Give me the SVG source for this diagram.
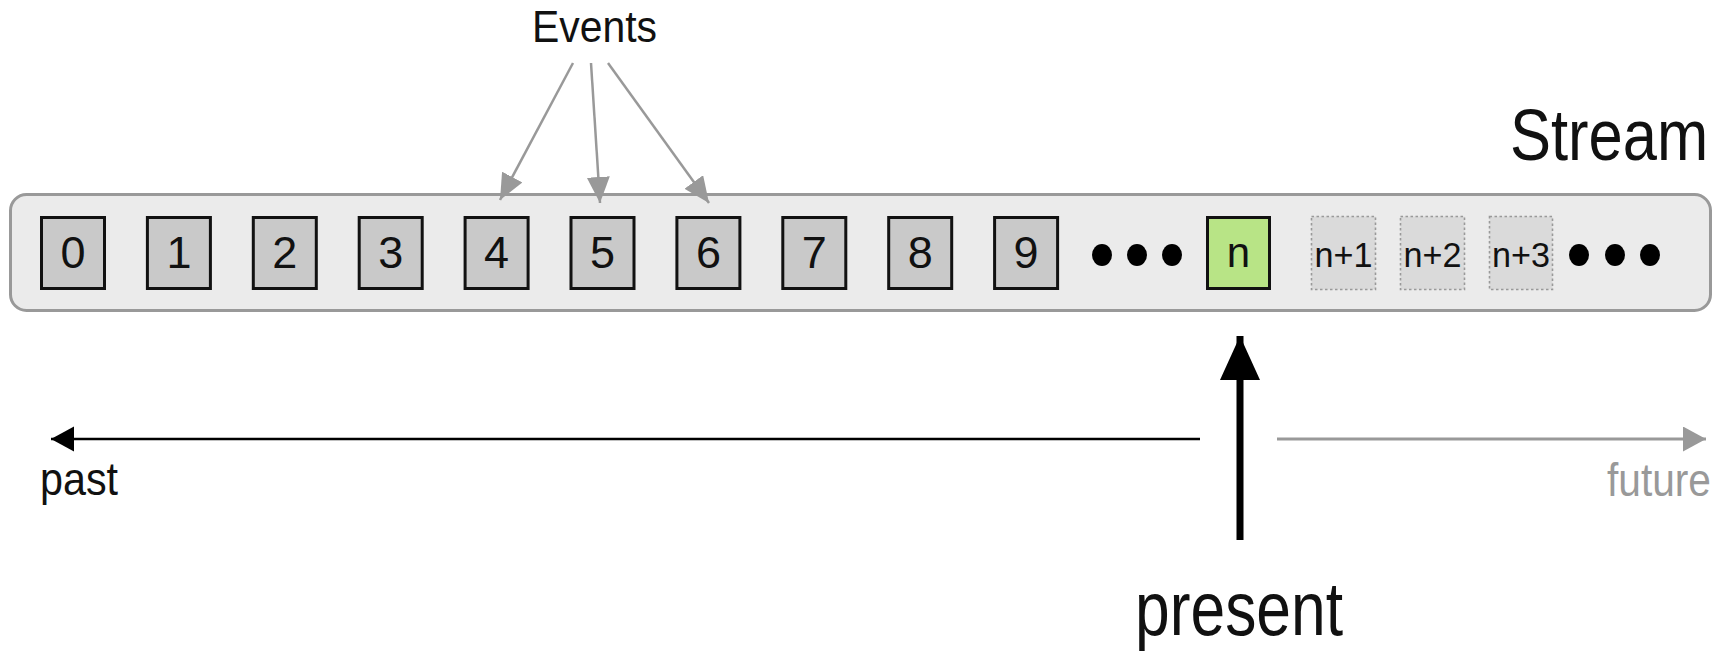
<svg xmlns="http://www.w3.org/2000/svg" width="1729" height="653" viewBox="0 0 1729 653">
  <defs>
    <style>
      .t { font-family: "Liberation Sans", Arial, sans-serif; fill: #111; }
      .ev { stroke: #111; stroke-width: 3; fill: #c9c9c9; }
      .cur { stroke: #111; stroke-width: 3; fill: #b8e486; }
      .fut { stroke: #999; stroke-width: 1.6; stroke-dasharray: 2.5 2.5; fill: #dadada; }
      .dig { font-size: 45px; text-anchor: middle; }
      .nl { font-size: 35px; text-anchor: middle; }
      .dot { fill: #000; }
    </style>
    <marker id="grayHead" markerUnits="userSpaceOnUse" markerWidth="27" markerHeight="24" refX="26" refY="11.5" orient="auto">
      <path d="M0,0 L26,11.5 L0,23 Z" fill="#999"/>
    </marker>
    <marker id="pastHead" markerUnits="userSpaceOnUse" markerWidth="24" markerHeight="26" refX="23" refY="12.5" orient="auto">
      <path d="M0,0 L23,12.5 L0,25 Z" fill="#000"/>
    </marker>
    <marker id="futureHead" markerUnits="userSpaceOnUse" markerWidth="24" markerHeight="26" refX="23" refY="12.5" orient="auto">
      <path d="M0,0 L23,12.5 L0,25 Z" fill="#999"/>
    </marker>
    <marker id="presentHead" markerUnits="userSpaceOnUse" markerWidth="46" markerHeight="42" refX="44" refY="20" orient="auto">
      <path d="M0,0 L44,20 L0,40 Z" fill="#000"/>
    </marker>
  </defs>

  <rect width="1729" height="653" fill="#fff"/>

  <!-- stream container -->
  <g id="stream">
    <rect x="10.5" y="194.5" width="1700" height="116" rx="16" fill="#ebebeb" stroke="#999" stroke-width="3"/>
    <text class="t" transform="translate(1510,160) scale(1,1.18)" font-size="61.5">Stream</text>
  </g>

  <!-- past events -->
  <g id="e0"><rect class="ev" x="41.5" y="217.5" width="63" height="71"/><text class="t dig" x="73" y="268">0</text></g>
  <g id="e1"><rect class="ev" x="147.4" y="217.5" width="63" height="71"/><text class="t dig" x="178.9" y="268">1</text></g>
  <g id="e2"><rect class="ev" x="253.3" y="217.5" width="63" height="71"/><text class="t dig" x="284.8" y="268">2</text></g>
  <g id="e3"><rect class="ev" x="359.2" y="217.5" width="63" height="71"/><text class="t dig" x="390.7" y="268">3</text></g>
  <g id="e4"><rect class="ev" x="465.1" y="217.5" width="63" height="71"/><text class="t dig" x="496.6" y="268">4</text></g>
  <g id="e5"><rect class="ev" x="571" y="217.5" width="63" height="71"/><text class="t dig" x="602.5" y="268">5</text></g>
  <g id="e6"><rect class="ev" x="676.9" y="217.5" width="63" height="71"/><text class="t dig" x="708.4" y="268">6</text></g>
  <g id="e7"><rect class="ev" x="782.8" y="217.5" width="63" height="71"/><text class="t dig" x="814.3" y="268">7</text></g>
  <g id="e8"><rect class="ev" x="888.7" y="217.5" width="63" height="71"/><text class="t dig" x="920.2" y="268">8</text></g>
  <g id="e9"><rect class="ev" x="994.6" y="217.5" width="63" height="71"/><text class="t dig" x="1026.1" y="268">9</text></g>

  <g id="gap1">
    <ellipse class="dot" cx="1102" cy="255" rx="10" ry="11"/>
    <ellipse class="dot" cx="1137" cy="255" rx="10" ry="11"/>
    <ellipse class="dot" cx="1172" cy="255" rx="10" ry="11"/>
  </g>

  <!-- current event -->
  <g id="en"><rect class="cur" x="1207.5" y="217.5" width="62" height="71"/><text class="t" x="1238.5" y="267" font-size="42" text-anchor="middle">n</text></g>

  <!-- future events -->
  <g id="en1"><rect class="fut" x="1311.5" y="216.5" width="64" height="73"/><text class="t nl" x="1343.5" y="267" textLength="58" lengthAdjust="spacingAndGlyphs">n+1</text></g>
  <g id="en2"><rect class="fut" x="1400.5" y="216.5" width="64" height="73"/><text class="t nl" x="1432.5" y="267" textLength="58" lengthAdjust="spacingAndGlyphs">n+2</text></g>
  <g id="en3"><rect class="fut" x="1489.5" y="216.5" width="63" height="73"/><text class="t nl" x="1521" y="267" textLength="58" lengthAdjust="spacingAndGlyphs">n+3</text></g>

  <g id="gap2">
    <ellipse class="dot" cx="1579" cy="255" rx="10" ry="11"/>
    <ellipse class="dot" cx="1615" cy="255" rx="10" ry="11"/>
    <ellipse class="dot" cx="1650" cy="255" rx="10" ry="11"/>
  </g>

  <!-- labels -->
  <g id="events-label"><text class="t" x="532" y="42" font-size="44" textLength="125" lengthAdjust="spacingAndGlyphs">Events</text></g>
  <g id="past-label"><text class="t" x="40" y="495" font-size="46" textLength="78" lengthAdjust="spacingAndGlyphs">past</text></g>
  <g id="future-label"><text class="t" x="1607" y="496" font-size="46" textLength="104" lengthAdjust="spacingAndGlyphs" style="fill:#999">future</text></g>
  <g id="present-label"><text class="t" x="1135" y="635" font-size="76" textLength="208" lengthAdjust="spacingAndGlyphs">present</text></g>

  <!-- connectors -->
  <g id="connectors" fill="none">
    <line x1="573" y1="63" x2="500" y2="200" stroke="#999" stroke-width="2.5" marker-end="url(#grayHead)"/>
    <line x1="591" y1="63" x2="600" y2="203" stroke="#999" stroke-width="2.5" marker-end="url(#grayHead)"/>
    <line x1="608" y1="63" x2="709" y2="203" stroke="#999" stroke-width="2.5" marker-end="url(#grayHead)"/>
    <line x1="1200" y1="439" x2="51" y2="439" stroke="#000" stroke-width="2.5" marker-end="url(#pastHead)"/>
    <line x1="1277" y1="439" x2="1706" y2="439" stroke="#999" stroke-width="3" marker-end="url(#futureHead)"/>
    <line x1="1240" y1="540" x2="1240" y2="336" stroke="#000" stroke-width="7" marker-end="url(#presentHead)"/>
  </g>
</svg>
